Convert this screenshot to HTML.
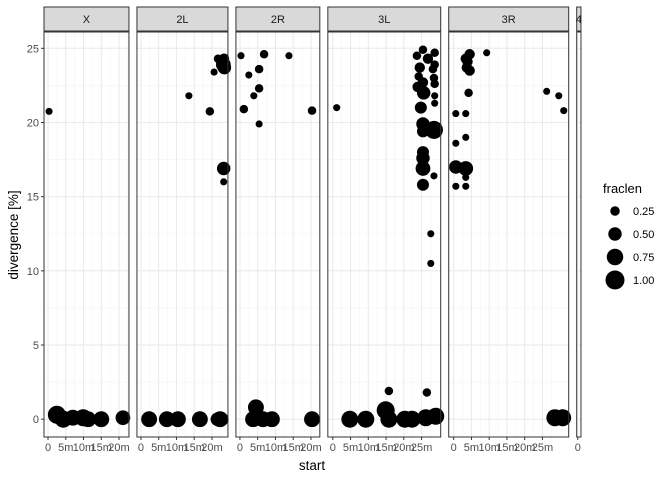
<!DOCTYPE html>
<html><head><meta charset="utf-8"><style>
body{margin:0;background:#fff;}
svg text{font-family:"Liberation Sans",sans-serif;}
</style></head><body>
<svg id="c" width="672" height="480" xmlns="http://www.w3.org/2000/svg"></svg>
<script>
const panelNames=["X","2L","2R","3L","3R","4"];
const panelMin=[-1.13,-1.13,-1.13,-1.4,-1.4,-0.3];
const panelMax=[22.8,24.5,22.5,30.4,32.4,0.9];
const yTicks=[0,5,10,15,20,25];
const xTicks=[0,5,10,15,20,25];
const xTickLabels=["0","5m","10m","15m","20m","25m"];
const legendVals=[0.25,0.5,0.75,1.0];
const legendLabels=["0.25","0.50","0.75","1.00"];
// points: panel index, start (Mb), divergence (%), fraclen
const ptPanel=[0,0,0,0,0,0,0,0,
1,1,1,1,1,1,1,1,1,1,1,1,1,1,1,1,1,
2,2,2,2,2,2,2,2,2,2,2,2,2,2,2,
3,3,3,3,3,3,3,3,3,3,
3,3,3,3,3,3,3,3,3,3,
3,3,3,3,3,3,3,3,3,3,
3,3,3,3,3,3,3,
4,4,4,4,4,4,4,4,4,4,4,4,4,4,4,4,4,4,4,4,4];
const ptStart=[0.3,2.5,4.3,7,9.9,11.3,15,21.1,
13.5,19.4,20.6,21.7,23.4,23.2,23.5,23.0,23.3,23.3,2.3,7.3,10.4,16.6,22.3,22.8,21.5,
0.3,6.8,13.8,2.5,5.4,5.4,3.9,1.1,5.4,20.3,4.5,3.7,6.5,9,20.3,
1.1,25.4,23.7,28.7,26.8,28.7,24.5,28.2,24.2,28.5,23.9,28.7,25.4,25.6,28.7,24.8,28.7,25.4,25.4,28.5,25.4,25.4,25.4,28.5,25.4,27.6,27.6,4.8,9.3,14.9,15.8,20.3,22.3,26.2,29,15.8,26.5,
0.6,3.4,0.6,3.4,0.6,3.4,3.4,0.6,3.4,4.2,3.7,3.9,4.5,3.4,4.5,9.3,26.2,29.6,31,28.5,30.7];
const ptDiv=[20.75,0.3,0,0.1,0.1,0,0,0.1,
21.8,20.75,23.4,24.3,24.3,23.9,23.7,24.2,16.9,16.0,0,0,0,0,0,0,0,
24.5,24.6,24.5,23.2,23.6,22.3,21.8,20.9,19.9,20.8,0.8,0,0,0,0,
21.0,24.9,24.5,24.7,24.3,23.9,23.7,23.6,23.1,23.0,22.4,22.6,22.7,22.0,21.8,21.0,21.3,19.9,19.4,19.5,18.0,17.6,16.9,16.4,15.8,12.5,10.5,0,0,0.6,0,0,0,0.1,0.2,1.9,1.8,
20.6,20.6,18.6,19.0,17.0,16.9,16.3,15.7,15.7,22.0,23.7,24.1,24.6,24.3,23.5,24.7,22.1,21.8,20.8,0.1,0.1];
const ptFrac=[0.14,0.9,0.8,0.7,0.8,0.7,0.7,0.6,
0.14,0.2,0.14,0.2,0.3,0.6,0.5,0.3,0.5,0.14,0.7,0.7,0.7,0.7,0.7,0.5,0.5,
0.14,0.2,0.14,0.14,0.2,0.2,0.14,0.2,0.14,0.2,0.7,0.7,0.7,0.7,0.7,
0.14,0.2,0.2,0.2,0.3,0.2,0.3,0.2,0.2,0.2,0.3,0.2,0.3,0.5,0.14,0.4,0.14,0.5,0.4,0.9,0.4,0.5,0.6,0.14,0.4,0.14,0.14,0.8,0.8,0.9,0.8,0.8,0.8,0.8,0.8,0.2,0.2,
0.14,0.14,0.14,0.14,0.5,0.6,0.14,0.14,0.14,0.2,0.3,0.3,0.3,0.3,0.3,0.14,0.14,0.14,0.14,0.8,0.8];

const NS="http://www.w3.org/2000/svg";
const svgEl=document.getElementById('c');
function mk(tag,attrs,parent){const e=document.createElementNS(NS,tag);for(const k in attrs)e.setAttribute(k,attrs[k]);(parent||svgEl).appendChild(e);return e;}
const pxPerMb=3.55, gapPx=8, plotLeft0=44, plotTop=32, plotBottom=437, stripTopY=7;
const yMin=-1.2,yMax=26.1;
function yS(v){return plotBottom-(v-yMin)/(yMax-yMin)*(plotBottom-plotTop);}
function rS(f){return 9.5*Math.sqrt(f);}
const lefts=[];let curX=plotLeft0;
panelMin.forEach((m,i)=>{lefts.push(curX);curX+=(panelMax[i]-m)*pxPerMb+gapPx;});
function xS(p,v){return lefts[p]+(v-panelMin[p])*pxPerMb;}
panelNames.forEach((nm,p)=>{
  const L=lefts[p],R=L+(panelMax[p]-panelMin[p])*pxPerMb;
  const g=mk('g',{});
  
  
  for(let v=-2.5;v<=27.5;v+=5){const y=yS(v);if(y>plotTop&&y<plotBottom)mk('line',{x1:L,x2:R,y1:y,y2:y,stroke:'#f4f4f4','stroke-width':0.6},g);}
  for(let v=-2.5;v<=35;v+=5){const xx=xS(p,v);if(xx>L&&xx<R)mk('line',{x1:xx,x2:xx,y1:plotTop,y2:plotBottom,stroke:'#f4f4f4','stroke-width':0.6},g);}
  yTicks.forEach(v=>{const y=yS(v);mk('line',{x1:L,x2:R,y1:y,y2:y,stroke:'#ebebeb','stroke-width':1.1},g);});
  xTicks.forEach((v,i)=>{const xx=xS(p,v);if(xx>=L&&xx<=R){mk('line',{x1:xx,x2:xx,y1:plotTop,y2:plotBottom,stroke:'#ebebeb','stroke-width':1.1},g);
    if(v<=panelMax[p]-1||v===0){mk('line',{x1:xx,x2:xx,y1:plotBottom,y2:plotBottom+3,stroke:'#333','stroke-width':1},g);
    const t=mk('text',{x:xx,y:plotBottom+14,'font-size':11,fill:'#4d4d4d','text-anchor':'middle'},g);t.textContent=xTickLabels[i];
    
    }}});
  ptPanel.forEach((pp,k)=>{if(pp!==p)return;
    const c=mk('circle',{cx:xS(p,ptStart[k]),cy:yS(ptDiv[k]),r:rS(ptFrac[k]),fill:'#000'},g);
    
    });
  mk('rect',{x:L,y:plotTop,width:R-L,height:plotBottom-plotTop,fill:'none',stroke:'#333','stroke-width':1},g);
  const s=mk('rect',{x:L,y:stripTopY,width:R-L,height:plotTop-stripTopY-1,fill:'#d9d9d9',stroke:'#333','stroke-width':1},g);
  
  
  const st=mk('text',{x:(L+R)/2,y:23,'font-size':11,fill:'#1a1a1a','text-anchor':'middle'},g);st.textContent=nm;
  
  
});
yTicks.forEach(v=>{const y=yS(v);mk('line',{x1:41,x2:44,y1:y,y2:y,stroke:'#333'});
  const t=mk('text',{x:39,y:y+4,'font-size':11,fill:'#4d4d4d','text-anchor':'end'});t.textContent=v;
  
  });
const yt=mk('text',{x:0,y:0,'font-size':13.5,fill:'#000','text-anchor':'middle',transform:'translate(18,235) rotate(-90)'});yt.textContent='divergence [%]';


const xt=mk('text',{x:312,y:470,'font-size':13.5,fill:'#000','text-anchor':'middle'});xt.textContent='start';


const lt=mk('text',{x:603,y:193,'font-size':13,fill:'#000'});lt.textContent='fraclen';


legendVals.forEach((v,i)=>{const y=211+i*23;
  const c=mk('circle',{cx:615,cy:y,r:rS(v),fill:'#000'});
  
  
  const t=mk('text',{x:633,y:y+4,'font-size':11,fill:'#000'});t.textContent=legendLabels[i];
  
  });
</script>
</body></html>
